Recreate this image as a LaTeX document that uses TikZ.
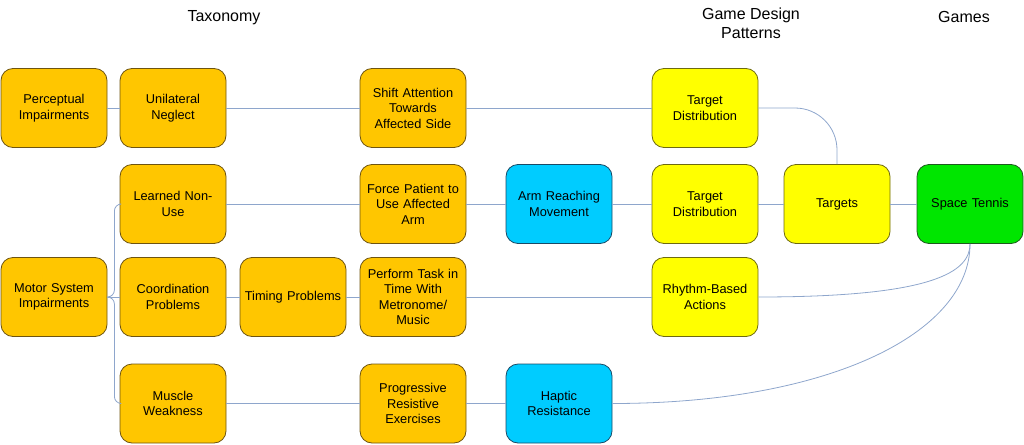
\documentclass[tikz,border=0pt]{standalone}
\usepackage{fontspec}
\setmainfont{Liberation Sans}
\usetikzlibrary{calc}
\definecolor{orangefill}{HTML}{FFC600}
\definecolor{orangeedge}{HTML}{6E5410}
\definecolor{yellowfill}{HTML}{FFFF00}
\definecolor{yellowedge}{HTML}{6E6A10}
\definecolor{bluefill}{HTML}{00CCFF}
\definecolor{blueedge}{HTML}{1A4A66}
\definecolor{greenfill}{HTML}{00E600}
\definecolor{greenedge}{HTML}{1E5A1E}
\definecolor{linkcol}{HTML}{8EA6CC}
\begin{document}
\begin{tikzpicture}[x=1pt,y=-1pt,
  box/.style={rectangle,rounded corners=12pt,minimum width=106pt,minimum height=79pt,
    inner sep=2pt,align=center,line width=0.8pt,font=\fontsize{12.8}{15.5}\selectfont,text width=100pt},
  obox/.style={box,fill=orangefill,draw=orangeedge},
  ybox/.style={box,fill=yellowfill,draw=yellowedge},
  bbox/.style={box,fill=bluefill,draw=blueedge},
  gbox/.style={box,fill=greenfill,draw=greenedge},
  link/.style={draw=linkcol,line width=0.8pt},
  title/.style={font=\fontsize{16}{19}\selectfont,align=center}]
\useasboundingbox (0,0) rectangle (1024,444);
% titles
\node[title] (ttax) at (224,18) {Taxonomy};
\node[title] (tgdp) at (751,23) {Game Design\\Patterns};
\node[title] (tgames) at (964,17) {Games};
% row 1
\node[obox] (perc) at (54,108) {Perceptual\\Impairments};
\node[obox] (uni) at (173,108) {Unilateral\\Neglect};
\node[obox] (shift) at (413,108) {Shift Attention\\Towards\\Affected Side};
\node[ybox] (td1) at (705,108) {Target\\Distribution};
% row 2
\node[obox] (learned) at (173,204) {Learned Non-\\Use};
\node[obox] (force) at (413,204) {Force Patient to\\Use Affected\\Arm};
\node[bbox] (arm) at (559,204) {Arm Reaching\\Movement};
\node[ybox] (td2) at (705,204) {Target\\Distribution};
\node[ybox] (targets) at (837,204) {Targets};
\node[gbox] (space) at (970,204) {Space Tennis};
% row 3
\node[obox] (motor) at (54,297) {Motor System\\Impairments};
\node[obox] (coord) at (173,297) {Coordination\\Problems};
\node[obox] (timing) at (293,297) {Timing Problems};
\node[obox] (perform) at (413,297) {Perform Task in\\Time With\\Metronome/\\Music};
\node[ybox] (rhythm) at (705,297) {Rhythm-Based\\Actions};
% row 4
\node[obox] (muscle) at (173,403.5) {Muscle\\Weakness};
\node[obox] (prog) at (413,403.5) {Progressive\\Resistive\\Exercises};
\node[bbox] (haptic) at (559,403.5) {Haptic\\Resistance};
% connectors
\path[link] (perc) -- (uni);
\path[link] (uni) -- (shift);
\path[link] (shift) -- (td1);
\path[link,rounded corners=42pt] (td1.east) -| (targets.north);
\path[link] (learned) -- (force);
\path[link] (force) -- (arm);
\path[link] (arm) -- (td2);
\path[link] (td2) -- (targets);
\path[link] (targets) -- (space);
\path[link] (motor) -- (coord);
\path[link,rounded corners=7pt] (motor.east) -- ++(7,0) |- (learned.west);
\path[link,rounded corners=7pt] (motor.east) -- ++(7,0) |- (muscle.west);
\path[link] (coord) -- (timing);
\path[link] (timing) -- (perform);
\path[link] (perform) -- (rhythm);
\path[link] (rhythm.east) .. controls ($(rhythm.east)+(175,0)$) and ($(space.south)+(0,28)$) .. (space.south);
\path[link] (muscle) -- (prog);
\path[link] (prog) -- (haptic);
\path[link] (haptic.east) .. controls ($(haptic.east)+(215,0)$) and ($(space.south)+(0,90)$) .. (space.south);
\end{tikzpicture}
\end{document}
